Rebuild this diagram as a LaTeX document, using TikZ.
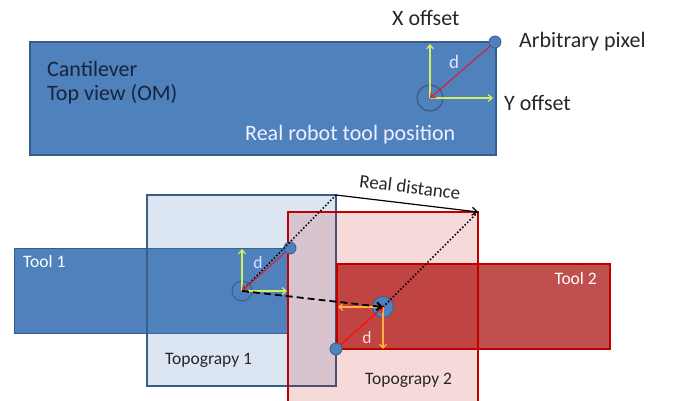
\documentclass[tikz,border=0pt]{standalone}
\usepackage{fontspec}
\setmainfont{Carlito}
\usepackage{tikz}
\usetikzlibrary{arrows.meta}
\definecolor{toolblue}{HTML}{4F81BD}
\definecolor{edgeblue}{HTML}{385D8A}
\definecolor{toolred}{HTML}{C0504D}
\definecolor{edgered}{HTML}{C00000}
\definecolor{offgreen}{HTML}{D4EE5E}
\definecolor{offorange}{HTML}{FFB040}
\definecolor{distred}{HTML}{D2233C}
\definecolor{navytext}{HTML}{17243A}

\begin{document}
\begin{tikzpicture}[
		x=1pt, y=-1pt,
		every node/.style={inner sep=0pt, font=\fontsize{22}{24}\selectfont, text=black!85},
		small/.style={font=\fontsize{17.5}{20}\selectfont},
		offarrow/.style={-{Straight Barb[length=4pt,width=7pt]}, line width=1.2pt},
		distarrow/.style={-{Straight Barb[length=4pt,width=7pt]}, draw=distred, line width=1.2pt},
		dot/.style={circle, draw=edgeblue, fill=toolblue, line width=0.8pt, minimum size=12pt}
	]
  \useasboundingbox (0,0) rectangle (675,400);
  % top view of the cantilever
  \draw[fill=toolblue, draw=edgeblue, line width=1.3pt] (30,42) rectangle (496,155);
  \node (cant) [anchor=base west, text=navytext] at (47,76) {Cantilever};
  \node (view) [anchor=base west, text=navytext] at (47,100) {Top view (OM)};
  \node (robot) [anchor=base west, text=white!94!blue] at (245,140) {Real robot tool position};
  \node (tc) [circle, draw=edgeblue, line width=1.3pt, minimum size=26pt] at (430,98) {};
  \coordinate (xo) at (430,44);
  \coordinate (yo) at (493,98);
  \draw[offarrow, offgreen] (tc.center) -- (xo);
  \draw[offarrow, offgreen] (tc.center) -- (yo);
  \node (pix) [dot] at (495,42) {};
  \draw[distarrow] (pix) -- (tc.center);
  \node (d0) [text=white!90!blue, font=\fontsize{19}{22}\selectfont] at (454,62) {d};
  \node (xlab) [anchor=base west] at (392,25) {X offset};
  \node (pixlab) [anchor=base west] at (519,47) {Arbitrary pixel};
  \node (ylab) [anchor=base west] at (504,110) {Y offset};

  % two tool positions over two topographies
  \fill[toolblue] (14,248) rectangle (288,333);
  \draw[edgeblue, line width=1pt] (288,248) -- (14,248) -- (14,333) -- (288,333);
  \draw[fill=toolblue, fill opacity=0.2, draw=edgeblue, line width=1.2pt] (147,195) rectangle (336,386);
  \draw[fill=toolred, draw=edgered, line width=1.2pt] (337,264) rectangle (610,349);
  \draw[fill=edgered, fill opacity=0.15, draw=edgered, line width=1.6pt] (288,212) rectangle (478,410);
  \coordinate (t1) at (336,195);
  \coordinate (t2) at (478,212);
  \node (c1) [circle, draw=edgeblue, line width=1pt, minimum size=20pt] at (242,291) {};
  \node (c2) [dot, minimum size=21pt] at (383,307) {};
  \node (p1) [dot] at (290,248) {};
  \node (p2) [dot] at (336,349) {};
  \draw[black, dotted, line width=1.5pt] (c1.center) -- (t1);
  \draw[black, dotted, line width=1.5pt] (c2.center) -- (t2);
  \draw[black, line width=1.2pt, -{Straight Barb[length=5pt,width=8pt]}] (t1) -- (t2);
  \draw[offarrow, offgreen] (c1.center) -- (242,249);
  \draw[offarrow, offgreen] (c1.center) -- (287,291);
  \draw[distarrow] (p1) -- (c1.center);
  \draw[offarrow, offorange] (c2.center) -- (338,307);
  \draw[offarrow, offorange] (c2.center) -- (383,349);
  \draw[distarrow, draw=red!90!orange] (p2) -- (c2.center);
  \draw[black, dashed, dash pattern=on 7pt off 4pt, line width=1.8pt, -{Straight Barb[length=5pt,width=8pt]}] (c1.center) -- (c2.center);
  \node (d1) [small, text=white!88!blue] at (258,262) {d};
  \node (d2) [small, text=white!85!red] at (367,337) {d};
  \node (dist) [rotate=-6.8, font=\fontsize{19}{22}\selectfont] at (410,187) {Real distance};
  \node (tool1) [small, anchor=base west, text=white] at (23,267.5) {Tool 1};
  \node (tool2) [small, anchor=base east, text=white] at (597,284) {Tool 2};
  \node (topo1) [small, anchor=base west] at (165,364) {Topograpy 1};
  \node (topo2) [small, anchor=base west] at (365,384) {Topograpy 2};
\end{tikzpicture}
\end{document}
